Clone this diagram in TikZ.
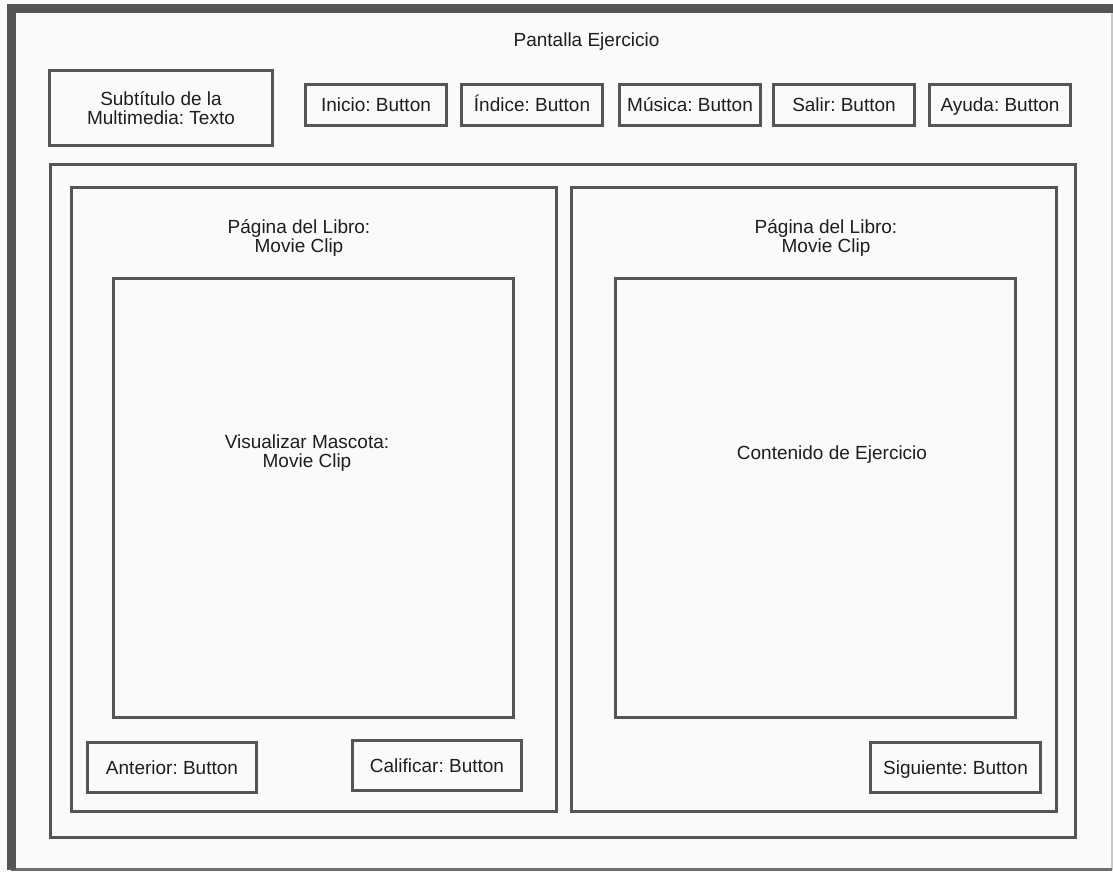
\documentclass[tikz,border=0pt]{standalone}
\usepackage{fontspec}
\setmainfont{Liberation Sans}
\frenchspacing
\definecolor{edge}{HTML}{555555}
\definecolor{ink}{HTML}{1E1E1E}
\definecolor{paper}{HTML}{FAFAFA}
\definecolor{rim}{HTML}{707070}
\definecolor{rimlight}{HTML}{C8C8C8}
\begin{document}
\begin{tikzpicture}[x=1pt,y=-1pt,
  every node/.style={font=\fontsize{19}{19.5}\selectfont},
  box/.style={draw=edge, line width=3pt, inner sep=0pt, text=ink},
  btn/.style={box, text height=14pt, text depth=0pt},
  lbl/.style={inner sep=0pt, text=ink, align=center}
]
% canvas
\fill[paper] (0,0) rectangle (1113,872);
\useasboundingbox (0,0) rectangle (1113,872);

% screen frame
\node[inner sep=0pt, minimum width=1100.5pt, minimum height=861pt] (screen) at (561.75,439) {};
\draw[rimlight, line width=1.5pt] (screen.north east) -- (screen.south east);
\draw[rim, line width=2.5pt] (screen.south east) -- (screen.south west);
\draw[edge, line width=9pt] (screen.south west) -- (screen.north west) -- ([xshift=2pt]screen.north east);

\node[lbl, anchor=base] (title) at (586.5,46.5) {Pantalla Ejercicio};

% header
\node[box, align=center, minimum width=223pt, minimum height=75pt] (subtitle) at (161,108)
  {Subtítulo de la\\Multimedia: Texto};
\node[btn, minimum width=141pt, minimum height=41pt] (inicio) at (376,105) {Inicio: Button};
\node[btn, minimum width=141pt, minimum height=41pt] (indice) at (532,105) {Índice: Button};
\node[btn, minimum width=141pt, minimum height=41pt] (musica) at (690,105) {Música: Button};
\node[btn, minimum width=141pt, minimum height=41pt] (salir)  at (844,105) {Salir: Button};
\node[btn, minimum width=141pt, minimum height=41pt] (ayuda)  at (1000,105) {Ayuda: Button};

% book area
\node[box, minimum width=1025pt, minimum height=673pt] (book) at (563,501) {};
\node[box, minimum width=485pt, minimum height=624pt] (pageL) at (314,499.5) {};
\node[box, minimum width=485pt, minimum height=624pt] (pageR) at (814,499.5) {};

\node[lbl] (pageLtitle) at (299,238) {Página del Libro:\\Movie Clip};
\node[lbl] (pageRtitle) at (826,238) {Página del Libro:\\Movie Clip};

\node[box, minimum width=400pt, minimum height=439pt] (mascot) at (313,498) {};
\node[box, minimum width=400pt, minimum height=439pt] (content) at (815,498) {};

\node[lbl] (mascotlabel) at (307,453) {Visualizar Mascota:\\Movie Clip};
\node[lbl, anchor=base] (contentlabel) at (832,459) {Contenido de Ejercicio};

% navigation
\node[btn, minimum width=169pt, minimum height=50pt] (anterior)  at (172,767.5) {Anterior: Button};
\node[btn, minimum width=169pt, minimum height=50pt] (calificar) at (437,765) {Calificar: Button};
\node[btn, minimum width=170pt, minimum height=50pt] (siguiente) at (955.5,767.5) {Siguiente: Button};
\end{tikzpicture}
\end{document}
